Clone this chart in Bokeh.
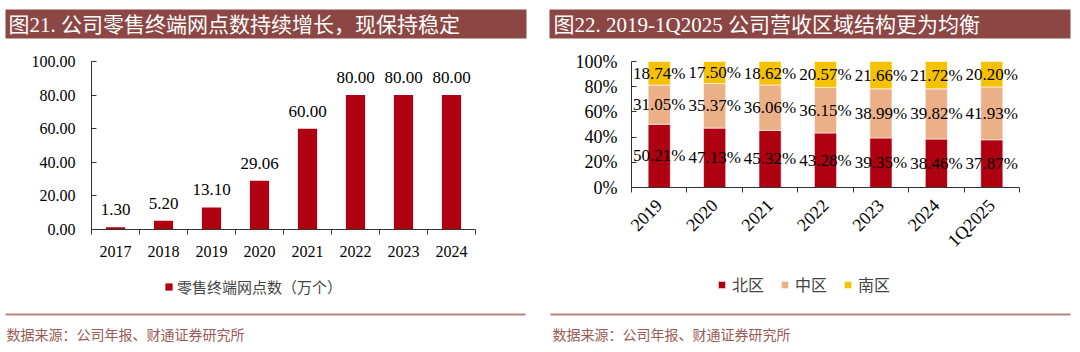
import numpy as np
from bokeh.plotting import figure
from bokeh.models import (ColumnDataSource, Range1d, FixedTicker, NumeralTickFormatter,
                          PrintfTickFormatter, Legend, LegendItem, BoxAnnotation, Label)
from bokeh.layouts import row
from bokeh.core.properties import value
from bokeh.embed import file_html
from bokeh.resources import INLINE

# ---------------- data ----------------
years1 = ["2017", "2018", "2019", "2020", "2021", "2022", "2023", "2024"]
outlets = [1.30, 5.20, 13.10, 29.06, 60.00, 80.00, 80.00, 80.00]

periods2 = ["2019", "2020", "2021", "2022", "2023", "2024", "1Q2025"]
north = [50.21, 47.13, 45.32, 43.28, 39.35, 38.46, 37.87]
mid = [31.05, 35.37, 36.06, 36.15, 38.99, 39.82, 41.93]
south = [18.74, 17.50, 18.62, 20.57, 21.66, 21.72, 20.20]

title1 = "图21. 公司零售终端网点数持续增长，现保持稳定"
title2 = "图22. 2019-1Q2025 公司营收区域结构更为均衡"
source_note = "数据来源：公司年报、财通证券研究所"
legend1 = "零售终端网点数（万个）"
legend2 = ["北区", "中区", "南区"]
y1_ticks = [0, 20, 40, 60, 80, 100]
y2_ticks = [0, 20, 40, 60, 80, 100]

# ---------------- style ----------------
W, H = 540, 352
RED = "#AE0010"
PEACH = "#ECB089"
YELLOW = "#F6C200"
BAND = "#8C4744"
SEP = "#B8837E"
NOTE = "#9A5A55"
SERIF = "Liberation Serif"
CJK = "Noto Sans CJK SC"
MIXED = "Liberation Serif, Noto Sans CJK SC"
AXC = "#333333"


def make_fig(n, fl, fr, ft, fb, ymax=100):
    """Frame covers the whole canvas; ranges chosen so that the plotting area
    (categories 0.5..n+0.5, values 0..ymax) lands on the pixel box fl..fr, ft..fb."""
    ppx = (fr - fl) / n
    ppy = (fb - ft) / ymax
    xr = Range1d(0.5 - fl / ppx, n + 0.5 + (W - fr) / ppx)
    yr = Range1d(-(H - fb) / ppy, ymax + ft / ppy)
    p = figure(width=W, height=H, x_range=xr, y_range=yr, min_border=0,
               toolbar_location=None, output_backend="svg")
    p.grid.visible = False
    p.outline_line_color = None
    return p


def style_axes(p, n, label_size, ymax=100):
    for ax in (p.xaxis[0], p.yaxis[0]):
        ax.axis_line_color = AXC
        ax.major_tick_line_color = AXC
        ax.minor_tick_line_color = AXC
        ax.major_label_text_font = SERIF
        ax.major_label_text_font_size = label_size
        ax.major_label_text_color = "black"
    p.xaxis.fixed_location = 0
    p.xaxis.bounds = (0.5, n + 0.5)
    p.yaxis.fixed_location = 0.5
    p.yaxis.bounds = (0, ymax)
    p.yaxis.major_tick_in = 5
    p.yaxis.major_tick_out = 0
    p.yaxis.minor_tick_line_color = None
    p.xaxis.major_tick_in = 0
    p.xaxis.major_tick_out = 0
    p.xaxis.minor_tick_in = 0
    p.xaxis.minor_tick_out = 5


def decorate(p, band, title_x, line, note_x, title):
    """Banner, separator and source note in canvas pixels (frame = canvas)."""
    sy = lambda cy: H - cy
    p.add_layout(BoxAnnotation(left=band[0], right=band[1], top=sy(9), bottom=sy(38),
                               left_units="screen", right_units="screen",
                               top_units="screen", bottom_units="screen",
                               fill_color=BAND, fill_alpha=1, line_color=None))
    p.add_layout(Label(x=title_x, y=sy(24), x_units="screen", y_units="screen", text=title,
                       text_font=MIXED, text_font_size="21px", text_color="white",
                       text_baseline="middle", text_align="left"))
    p.add_layout(BoxAnnotation(left=line[0], right=line[1], top=sy(313), bottom=sy(315),
                               left_units="screen", right_units="screen",
                               top_units="screen", bottom_units="screen",
                               fill_color=SEP, fill_alpha=1, line_color=None))
    p.add_layout(Label(x=note_x, y=sy(333), x_units="screen", y_units="screen",
                       text=source_note, text_font=CJK, text_font_size="14px",
                       text_color=NOTE, text_baseline="middle", text_align="left"))


# ---------------- chart 1 ----------------
n1 = len(years1)
xs1 = [i + 1 for i in range(n1)]
src1 = ColumnDataSource(dict(x=xs1, y=outlets, label=[f"{v:.2f}" for v in outlets]))
p1 = make_fig(n1, 91, 475, 61, 229)
r1 = p1.vbar(x="x", top="y", width=0.4, source=src1, fill_color=RED, line_color=None)
p1.text(x="x", y="y", text="label", source=src1, text_align="center", text_baseline="bottom",
        y_offset=-12, text_font=value(SERIF), text_font_size="17px", text_color="black")
style_axes(p1, n1, "16px")
p1.xaxis.ticker = FixedTicker(ticks=xs1, minor_ticks=[i + 0.5 for i in range(n1 + 1)])
p1.xaxis.major_label_overrides = {x: y for x, y in zip(xs1, years1)}
p1.xaxis.major_label_standoff = 11
p1.yaxis.ticker = FixedTicker(ticks=y1_ticks)
p1.yaxis.formatter = NumeralTickFormatter(format="0.00")
p1.yaxis.major_label_standoff = 16
leg1 = Legend(items=[LegendItem(label=legend1, renderers=[r1])], orientation="horizontal",
              location=(164, H - 297), padding=0, margin=0, border_line_color=None,
              background_fill_alpha=0, glyph_width=9, glyph_height=9, label_standoff=4,
              label_text_font=CJK, label_text_font_size="15px")
p1.add_layout(leg1)
decorate(p1, (5, 526), 8, (5, 525), 6, title1)

# ---------------- chart 2 ----------------
n2 = len(periods2)
xs2 = [i + 1 for i in range(n2)]
nb = np.array(north)
mb = np.array(mid)
sb = np.array(south)
src2 = ColumnDataSource(dict(x=xs2, north=north, mid=mid, south=south))
p2 = make_fig(n2, 91, 479, 61, 187)
rs = p2.vbar_stack(["north", "mid", "south"], x="x", width=0.4, source=src2,
                   color=[RED, PEACH, YELLOW], line_color="white", line_width=0.6)
lab_y = list(nb / 2) + list(nb + mb / 2) + list(nb + mb + sb / 2)
lab_x = xs2 * 3
lab_t = [f"{v:.2f}%" for v in north + mid + south]
p2.text(x=lab_x, y=lab_y, text=lab_t, text_align="center", text_baseline="middle",
        text_font=value(SERIF), text_font_size="17px", text_color="black")
style_axes(p2, n2, "18px")
p2.xaxis.ticker = FixedTicker(ticks=xs2, minor_ticks=[i + 0.5 for i in range(n2 + 1)])
p2.xaxis.major_label_overrides = {x: y for x, y in zip(xs2, periods2)}
p2.xaxis.major_label_orientation = np.pi / 4
p2.xaxis.major_label_standoff = 10
p2.yaxis.ticker = FixedTicker(ticks=y2_ticks)
p2.yaxis.formatter = PrintfTickFormatter(format="%d%%")
p2.yaxis.major_label_standoff = 14
leg2 = Legend(items=[LegendItem(label=l, renderers=[r]) for l, r in zip(legend2, rs)],
              orientation="horizontal", location=(717 - 540, H - 296), padding=0,
              margin=0, border_line_color=None, background_fill_alpha=0, glyph_width=9,
              glyph_height=9, label_standoff=6, spacing=16, label_text_font=CJK,
              label_text_font_size="16px")
p2.add_layout(leg2)
decorate(p2, (9, 530), 13, (10, 530), 12, title2)

root = row(p1, p2, spacing=0)

open("out.html", "w").write(file_html(root, INLINE))
